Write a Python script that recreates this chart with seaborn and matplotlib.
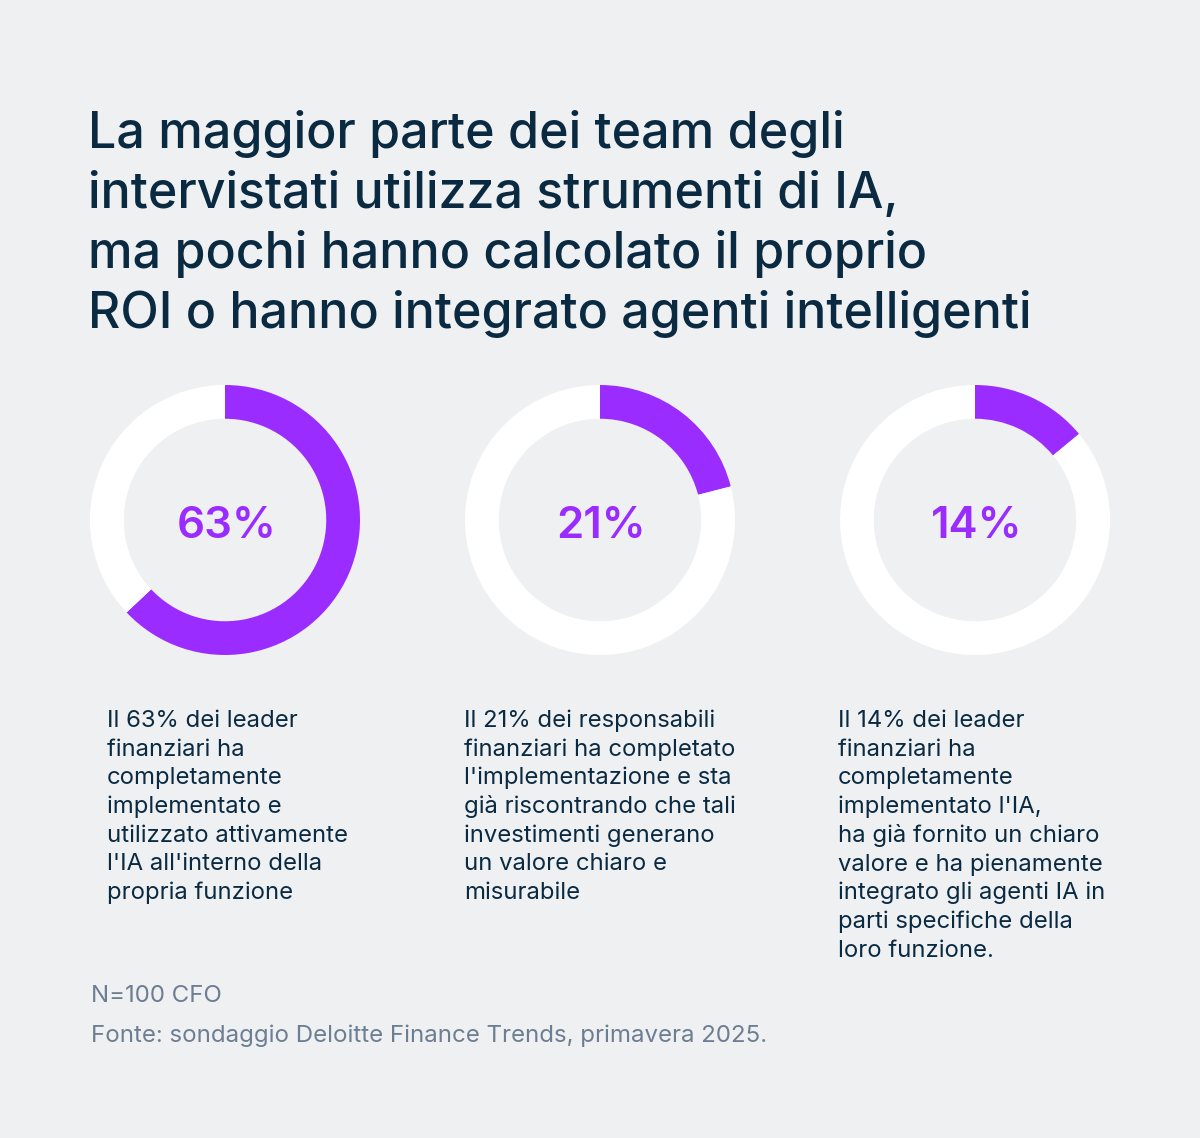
import matplotlib
matplotlib.use('Agg')
import matplotlib.pyplot as plt
import seaborn as sns

W, H = 1200, 1138

title_lines = [
    'La maggior parte dei team degli',
    'intervistati utilizza strumenti di IA,',
    'ma pochi hanno calcolato il proprio',
    'ROI o hanno integrato agenti intelligenti',
]
shares = [63, 21, 14]
labels = ['63%', '21%', '14%']
descriptions = [
    ['Il 63% dei leader', 'finanziari ha', 'completamente', 'implementato e',
     'utilizzato attivamente', "l'IA all'interno della", 'propria funzione'],
    ['Il 21% dei responsabili', 'finanziari ha completato', "l'implementazione e sta",
     'già riscontrando che tali', 'investimenti generano', 'un valore chiaro e', 'misurabile'],
    ['Il 14% dei leader', 'finanziari ha', 'completamente', "implementato l'IA,",
     'ha già fornito un chiaro', 'valore e ha pienamente', 'integrato gli agenti IA in',
     'parti specifiche della', 'loro funzione.'],
]
footer = ['N=100 CFO', 'Fonte: sondaggio Deloitte Finance Trends, primavera 2025.']

bg = '#eff0f2'
navy = '#0a2a42'
purple = '#9a2cff'
grey = '#6d7e92'

sns.set_theme(style='white', rc={'figure.facecolor': bg, 'axes.facecolor': bg})
plt.rcParams['font.family'] = ['Inter', 'DejaVu Sans']

fig = plt.figure(figsize=(W / 100, H / 100), dpi=100)


def px(x, y):
    return x / W, 1 - y / H


# title
for i, line in enumerate(title_lines):
    fig.text(*px(88, 148 + i * 60), line, fontsize=36.1, color=navy,
             fontweight='medium', va='baseline', ha='left')

# donuts
centres_x = [225, 600, 975]
r_out = 135
for cx, val, lab in zip(centres_x, shares, labels):
    ax = fig.add_axes([(cx - r_out) / W, 1 - (520 + r_out) / H,
                       2 * r_out / W, 2 * r_out / H])
    ax.pie([val, 100 - val], colors=[purple, 'white'], startangle=90,
           counterclock=False, wedgeprops={'width': 0.25, 'linewidth': 0})
    ax.set_xlim(-1, 1)
    ax.set_ylim(-1, 1)
    ax.set_aspect('equal')
    ax.axis('off')
    ax.text(0.01, -0.045, lab, ha='center', va='center', fontsize=31.5,
            fontweight='semibold', color=purple)

# descriptions
text_x = [107, 464, 838]
for tx, lines in zip(text_x, descriptions):
    for j, line in enumerate(lines):
        fig.text(*px(tx, 727 + j * 28.7), line, fontsize=17.2, color=navy,
                 va='baseline', ha='left')

# footer
fig.text(*px(91, 1002), footer[0], fontsize=17.3, color=grey, va='baseline')
fig.text(*px(91, 1042), footer[1], fontsize=17.3, color=grey, va='baseline')

fig.savefig('out.png', dpi=100, facecolor=bg)
